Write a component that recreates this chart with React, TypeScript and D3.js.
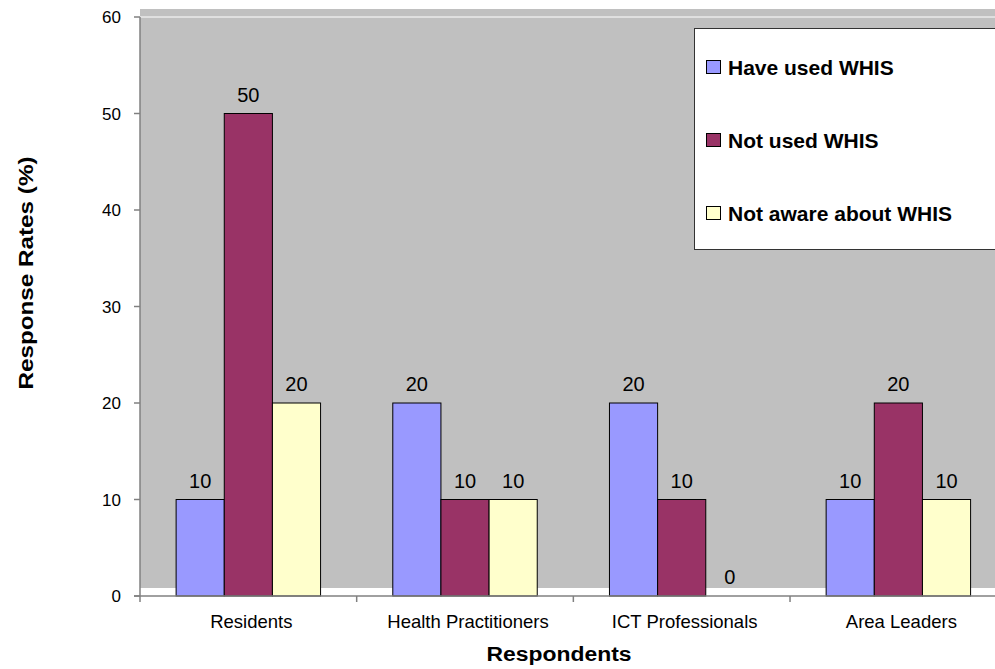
import { useRef, useEffect } from "react";
import * as d3 from "d3";

const categories = ["Residents", "Health Practitioners", "ICT Professionals", "Area Leaders"];
const seriesNames = ["Have used WHIS", "Not used WHIS", "Not aware about WHIS"];
const haveUsed = [10, 20, 20, 10];
const notUsed = [50, 10, 10, 20];
const notAware = [20, 10, 0, 10];
const yTicks = [0, 10, 20, 30, 40, 50, 60];
const colors = ["#9999FF", "#993366", "#FFFFCC"];

const FONT = "'Liberation Sans', Arial, sans-serif";

export default function App() {
  const ref = useRef<SVGSVGElement | null>(null);

  useEffect(() => {
    const svg = d3.select(ref.current);
    svg.selectAll("*").remove();

    const width = 995;
    const height = 669;
    const left = 140;
    const right = 1006.7; // plot runs past the picture edge
    const top = 17;
    const bottom = 596;

    const series = [haveUsed, notUsed, notAware];

    const x = d3.scaleBand<string>().domain(categories).range([left, right]).paddingInner(1 / 3).paddingOuter(1 / 6);
    const x1 = d3.scaleBand<number>().domain(d3.range(series.length)).range([0, x.bandwidth()]);
    const y = d3.scaleLinear().domain([0, 60]).range([bottom, top]);

    svg.append("rect").attr("width", width).attr("height", height).attr("fill", "#fff");

    // grey plot area (shifted up a little, like the original export)
    svg.append("rect")
      .attr("x", left)
      .attr("y", y(60) - 8)
      .attr("width", right - left)
      .attr("height", y(0) - y(60))
      .attr("fill", "#C0C0C0");
    svg.append("line")
      .attr("x1", left).attr("x2", right)
      .attr("y1", y(60)).attr("y2", y(60))
      .attr("stroke", "#fff").attr("stroke-width", 1);

    // bars
    categories.forEach((c, i) => {
      series.forEach((s, j) => {
        if (s[i] === 0) return;
        svg.append("rect")
          .attr("x", (x(c) as number) + (x1(j) as number))
          .attr("y", y(s[i]))
          .attr("width", x1.bandwidth())
          .attr("height", y(0) - y(s[i]))
          .attr("fill", colors[j])
          .attr("stroke", "#000")
          .attr("stroke-width", 1);
      });
      series.forEach((s, j) => {
        svg.append("text")
          .attr("x", (x(c) as number) + (x1(j) as number) + x1.bandwidth() / 2)
          .attr("y", y(s[i]) - 12)
          .attr("text-anchor", "middle")
          .style("font-family", FONT)
          .style("font-size", "20px")
          .attr("fill", "#000")
          .text(s[i]);
      });
    });

    // y axis
    svg.append("line")
      .attr("x1", left).attr("x2", left)
      .attr("y1", y(60)).attr("y2", y(0))
      .attr("stroke", "#808080").attr("stroke-width", 1.5);
    yTicks.forEach((t) => {
      svg.append("line")
        .attr("x1", left - 6).attr("x2", left)
        .attr("y1", y(t)).attr("y2", y(t))
        .attr("stroke", "#808080").attr("stroke-width", 1.5);
      svg.append("text")
        .attr("x", 121)
        .attr("y", y(t) + 6)
        .attr("text-anchor", "end")
        .style("font-family", FONT)
        .style("font-size", "17px")
        .text(t);
    });

    // x axis
    svg.append("line")
      .attr("x1", left - 6).attr("x2", width)
      .attr("y1", y(0)).attr("y2", y(0))
      .attr("stroke", "#808080").attr("stroke-width", 1.5);
    categories.forEach((c, i) => {
      const bx = left + i * x.step();
      svg.append("line")
        .attr("x1", bx).attr("x2", bx)
        .attr("y1", y(0)).attr("y2", y(0) + 6)
        .attr("stroke", "#808080").attr("stroke-width", 1.5);
      svg.append("text")
        .attr("x", (x(c) as number) + x.bandwidth() / 2 + 3)
        .attr("y", 628)
        .attr("text-anchor", "middle")
        .style("font-family", FONT)
        .style("font-size", "18.5px")
        .text(c);
    });

    // axis titles
    svg.append("text")
      .attr("x", 559)
      .attr("y", 661)
      .attr("text-anchor", "middle")
      .attr("textLength", 145)
      .attr("lengthAdjust", "spacingAndGlyphs")
      .style("font-family", FONT)
      .style("font-size", "20px")
      .style("font-weight", "bold")
      .text("Respondents");
    svg.append("text")
      .attr("transform", "translate(33,273) rotate(-90)")
      .attr("text-anchor", "middle")
      .attr("textLength", 233)
      .attr("lengthAdjust", "spacingAndGlyphs")
      .style("font-family", FONT)
      .style("font-size", "21px")
      .style("font-weight", "bold")
      .text("Response Rates (%)");

    // legend
    const lg = svg.append("g");
    lg.append("rect")
      .attr("x", 694.5).attr("y", 28.5)
      .attr("width", 320).attr("height", 221)
      .attr("fill", "#fff").attr("stroke", "#333").attr("stroke-width", 1);
    seriesNames.forEach((name, j) => {
      const cy = 67 + j * 73;
      lg.append("rect")
        .attr("x", 706.5).attr("y", cy - 6.5)
        .attr("width", 14).attr("height", 13)
        .attr("fill", colors[j]).attr("stroke", "#000").attr("stroke-width", 1);
      lg.append("text")
        .attr("x", 728)
        .attr("y", cy + 7.5)
        .style("font-family", FONT)
        .style("font-size", "21px")
        .style("font-weight", "bold")
        .text(name);
    });
  }, []);

  return (
    <svg
      ref={ref}
      width={995}
      height={669}
      style={{ position: "absolute", left: 0, top: 0, display: "block" }}
    ></svg>
  );
}
